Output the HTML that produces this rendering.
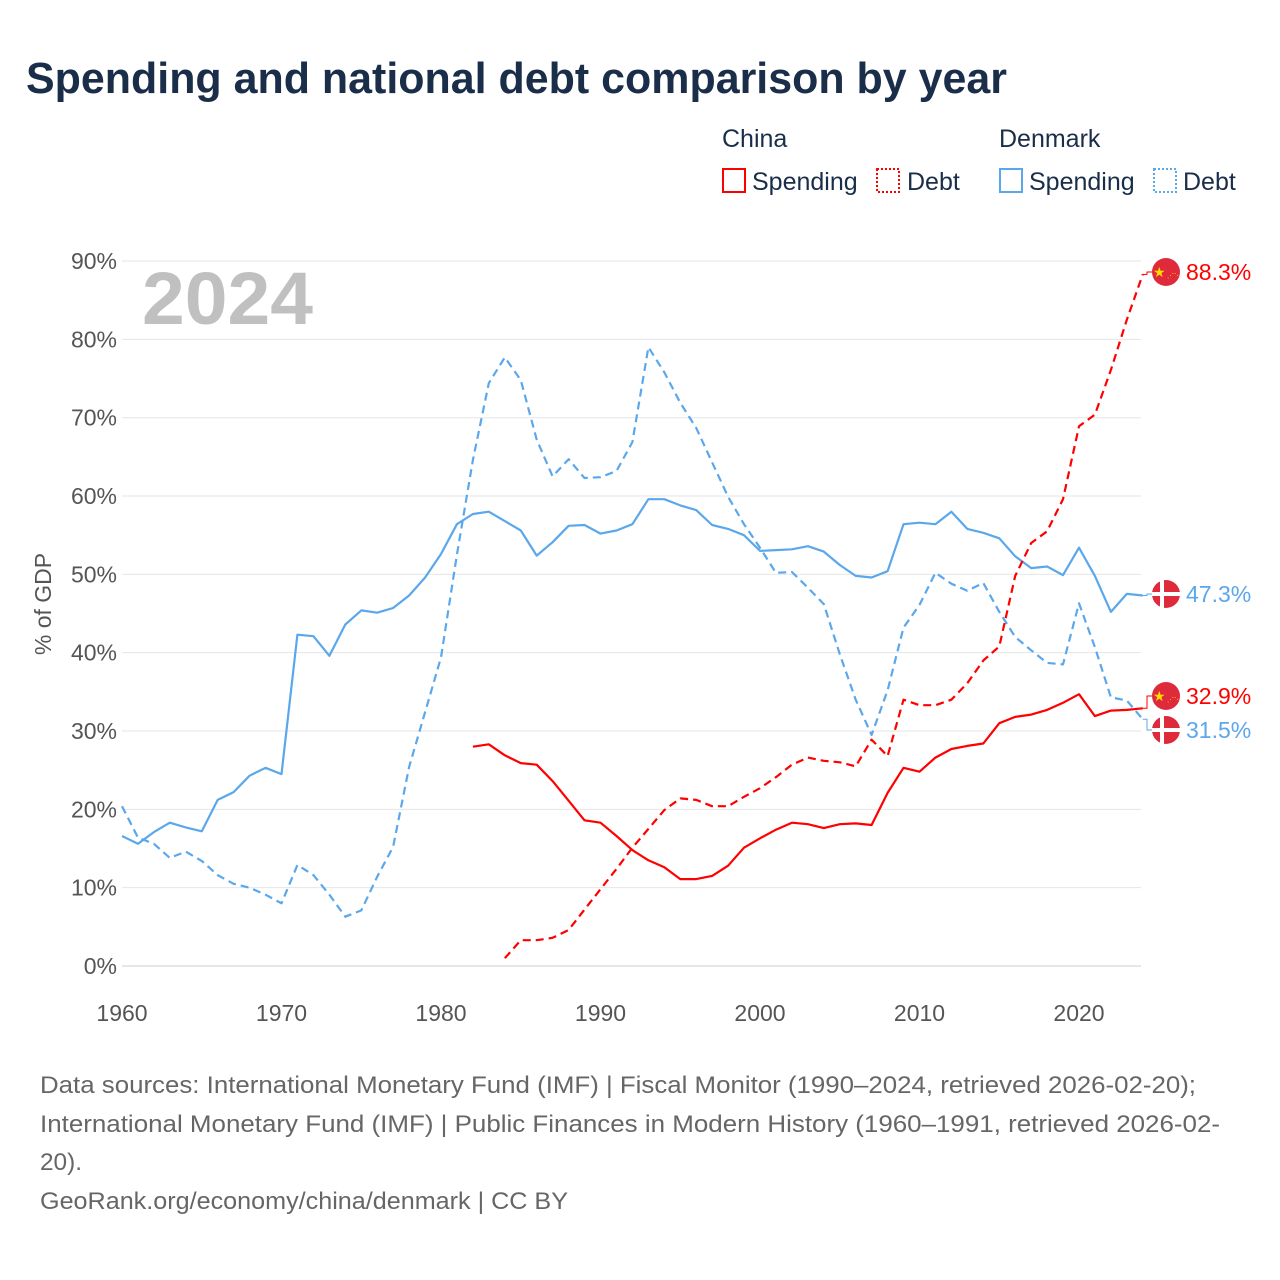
<!DOCTYPE html>
<html><head><meta charset="utf-8">
<style>
body{margin:0;background:#fff;font-family:"Liberation Sans",sans-serif;}
#wrap{position:relative;width:1280px;height:1280px;overflow:hidden;}
svg text{font-family:"Liberation Sans",sans-serif;}
</style></head>
<body>
<div id="wrap">
<svg id="chart" width="1280" height="1280">
<text x="26" y="93" font-size="44" font-weight="bold" fill="#1a2e4a" textLength="981" lengthAdjust="spacingAndGlyphs">Spending and national debt comparison by year</text>
<g font-size="25" fill="#1a2e4a">
<text x="722" y="147">China</text>
<text x="999" y="147">Denmark</text>
<g><rect x="723" y="169" width="22" height="23" fill="none" stroke="#ff0000" stroke-width="2"/><text x="752" y="190">Spending</text></g>
<g><rect x="877" y="169" width="22" height="23" fill="none" stroke="#ff0000" stroke-width="2" stroke-dasharray="2,2"/><text x="907" y="190">Debt</text></g>
<g><rect x="1000" y="169" width="22" height="23" fill="none" stroke="#5ba7ec" stroke-width="2"/><text x="1029" y="190">Spending</text></g>
<g><rect x="1154" y="169" width="22" height="23" fill="none" stroke="#5ba7ec" stroke-width="2" stroke-dasharray="2,2"/><text x="1183" y="190">Debt</text></g>
</g>
<text x="142" y="324" font-size="74" font-weight="bold" fill="#c0c0c0" textLength="171" lengthAdjust="spacingAndGlyphs">2024</text>
<text transform="translate(51,604) rotate(-90)" text-anchor="middle" font-size="23" fill="#555">% of GDP</text>
<g id="grid"></g><g id="axes"></g><g id="series"></g><g id="labels"></g>
<g font-size="24" fill="#666">
<text x="40" y="1093" textLength="1156" lengthAdjust="spacingAndGlyphs">Data sources: International Monetary Fund (IMF) | Fiscal Monitor (1990–2024, retrieved 2026-02-20);</text>
<text x="40" y="1132" textLength="1180" lengthAdjust="spacingAndGlyphs">International Monetary Fund (IMF) | Public Finances in Modern History (1960–1991, retrieved 2026-02-</text>
<text x="40" y="1170" textLength="42" lengthAdjust="spacingAndGlyphs">20).</text>
<text x="40" y="1209" textLength="528" lengthAdjust="spacingAndGlyphs">GeoRank.org/economy/china/denmark | CC BY</text>
</g>
</svg>
</div>
<script>
const yTicks=[0,10,20,30,40,50,60,70,80,90];
const xTicks=[1960,1970,1980,1990,2000,2010,2020];
const dkSpendStart=1960;
const dkSpending=[16.6,15.6,17.1,18.3,17.7,17.2,21.2,22.2,24.3,25.3,24.5,42.3,42.1,39.6,43.6,45.4,45.1,45.7,47.3,49.6,52.6,56.4,57.7,58.0,56.8,55.6,52.4,54.1,56.2,56.3,55.2,55.6,56.4,59.6,59.6,58.8,58.2,56.3,55.8,55.0,53.0,53.1,53.2,53.6,52.9,51.2,49.8,49.6,50.4,56.4,56.6,56.4,58.0,55.8,55.3,54.6,52.3,50.8,51.0,49.9,53.4,49.8,45.2,47.5,47.3];
const dkDebtStart=1960;
const dkDebt=[20.4,16.4,15.6,13.8,14.6,13.4,11.6,10.5,10.0,9.1,8.0,12.9,11.6,9.1,6.3,7.1,11.4,15.2,25.4,32.4,39.4,52.5,64.6,74.4,77.7,74.8,67.2,62.5,64.7,62.3,62.4,63.2,66.9,79.0,75.8,71.9,68.7,64.3,59.9,56.4,53.4,50.2,50.3,48.3,46.2,39.8,34.0,29.5,35.2,43.2,46.1,50.2,48.8,47.9,48.9,45.2,42.0,40.3,38.7,38.5,46.3,40.7,34.3,33.9,31.5];
const cnSpendStart=1982;
const cnSpending=[28.0,28.3,26.9,25.9,25.7,23.6,21.1,18.6,18.3,16.6,14.8,13.5,12.6,11.1,11.1,11.5,12.8,15.1,16.3,17.4,18.3,18.1,17.6,18.1,18.2,18.0,22.1,25.3,24.8,26.6,27.7,28.1,28.4,31.0,31.8,32.1,32.7,33.6,34.7,31.9,32.6,32.7,32.9];
const cnDebtStart=1984;
const cnDebt=[1.0,3.3,3.3,3.6,4.6,7.2,9.8,12.4,15.1,17.5,19.9,21.4,21.2,20.4,20.4,21.6,22.7,24.1,25.7,26.6,26.2,26.0,25.5,28.9,26.8,34.0,33.3,33.3,34.0,36.1,39.0,40.8,49.8,54.0,55.5,59.6,68.9,70.4,76.1,82.5,88.3];

const NS='http://www.w3.org/2000/svg';
const X=y=>122+(y-1960)*15.95;
const Y=v=>966-v*7.833;
function mk(t,a,p){const e=document.createElementNS(NS,t);for(const k in a)e.setAttribute(k,a[k]);p.appendChild(e);return e;}
const grid=document.getElementById('grid'),axes=document.getElementById('axes'),series=document.getElementById('series'),labels=document.getElementById('labels');
yTicks.forEach(v=>{
 const l=mk('line',{x1:122,x2:1141,y1:Y(v),y2:Y(v),stroke:v===0?'#ccc':'#e6e6e6','stroke-width':1},grid);
 
 
 const t=mk('text',{x:117,y:Y(v)+8,'text-anchor':'end','font-size':23,fill:'#555'},axes);
 t.textContent=v+'%';
 
 
});
xTicks.forEach(v=>{
 const t=mk('text',{x:X(v),y:1021,'text-anchor':'middle','font-size':23,fill:'#555'},axes);
 t.textContent=v;
 
 
});
function line(vals,start,color,dash,name){
 const d=vals.map((v,i)=>(i?'L':'M')+X(start+i).toFixed(1)+','+Y(v).toFixed(1)).join('');
 const p=mk('path',{d:d,fill:'none',stroke:color,'stroke-width':2.2,'stroke-linejoin':'round'},series);
 if(dash)p.setAttribute('stroke-dasharray','8,5');
 
 
}
line(dkDebt,dkDebtStart,'#5ba7ec',true,'line-denmark-debt');
line(dkSpending,dkSpendStart,'#5ba7ec',false,'line-denmark-spending');
line(cnDebt,cnDebtStart,'#ff0000',true,'line-china-debt');
line(cnSpending,cnSpendStart,'#ff0000',false,'line-china-spending');

function endLabel(val,ly,color,flag,name){
 const ex=X(2024),ey=Y(val);
 const c=mk('path',{d:`M${ex},${ey}H1147V${ly}H1152`,fill:'none',stroke:color,'stroke-width':1},labels);
 
 
 const g=mk('g',{},labels);
 
 
 mk('circle',{cx:1166,cy:ly,r:14,fill:'#de2a3a'},g);
 if(flag==='dk'){
  mk('rect',{x:1152,y:ly-2,width:28,height:4,fill:'#fff'},g);
  mk('rect',{x:1160,y:ly-14,width:4,height:28,fill:'#fff'},g);
 }else{
  const s=mk('text',{x:1153,y:ly+5,'font-size':14,fill:'#ffde00'},g);s.textContent='★';
  const s2=mk('text',{x:1167,y:ly+6,'font-size':7,fill:'#ffde00'},g);s2.textContent='⋰⋱';
 }
 const t=mk('text',{x:1186,y:ly+8,'font-size':23,fill:color},labels);
 t.textContent=val.toFixed(1)+'%';
 
 
}
endLabel(cnDebt[cnDebt.length-1],272,'#ff0000','cn','label-china-debt');
endLabel(dkSpending[dkSpending.length-1],594,'#5ba7ec','dk','label-denmark-spending');
endLabel(cnSpending[cnSpending.length-1],696,'#ff0000','cn','label-china-spending');
endLabel(dkDebt[dkDebt.length-1],730,'#5ba7ec','dk','label-denmark-debt');
</script>
</body></html>
